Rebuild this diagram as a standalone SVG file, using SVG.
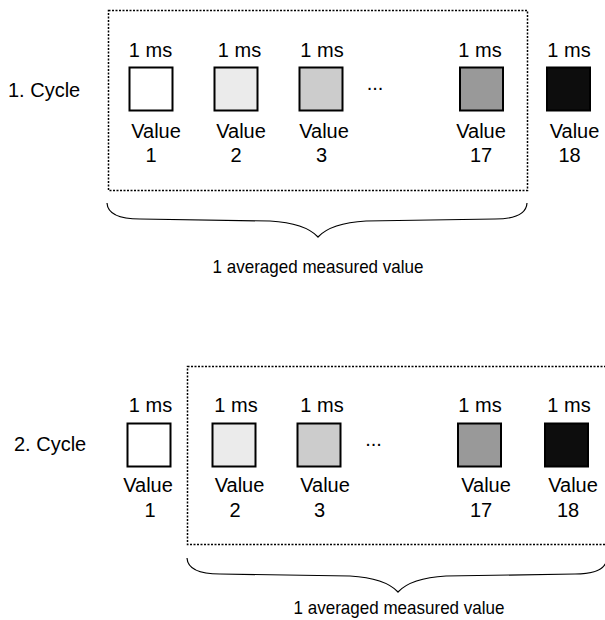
<svg xmlns="http://www.w3.org/2000/svg" width="605" height="620" viewBox="0 0 605 620">
  <style>
    text { font-family: "Liberation Sans", Arial, sans-serif; font-size: 20px; fill: #000; }
    .c { text-anchor: middle; }
    .box { stroke: #000; stroke-width: 2; }
    .frame { fill: none; stroke: #000; stroke-width: 1.5; stroke-dasharray: 2 1.5; }
    .brace { fill: none; stroke: #000; stroke-width: 1.2; }
  </style>
  <rect width="605" height="620" fill="#fff"/>

  <!-- Cycle 1 -->
  <g id="cycle1-label"><text x="8" y="97">1. Cycle</text></g>
  <g id="cycle1-frame"><rect class="frame" x="108.5" y="10.5" width="419" height="180"/></g>
  <g id="c1-v1">
    <text class="c" x="150.5" y="57">1 ms</text>
    <rect class="box" x="129.5" y="67.5" width="43" height="43" fill="#ffffff"/>
    <text class="c" x="156" y="138">Value</text>
    <text class="c" x="151" y="161.5">1</text>
  </g>
  <g id="c1-v2">
    <text class="c" x="239.5" y="57">1 ms</text>
    <rect class="box" x="214.5" y="67.5" width="43" height="43" fill="#ebebeb"/>
    <text class="c" x="241" y="138">Value</text>
    <text class="c" x="236" y="161.5">2</text>
  </g>
  <g id="c1-v3">
    <text class="c" x="322" y="57">1 ms</text>
    <rect class="box" x="299.5" y="67.5" width="43" height="43" fill="#cccccc"/>
    <text class="c" x="324" y="138">Value</text>
    <text class="c" x="321.5" y="161.5">3</text>
  </g>
  <g id="c1-dots"><text class="c" x="375" y="90">...</text></g>
  <g id="c1-v17">
    <text class="c" x="480" y="57">1 ms</text>
    <rect class="box" x="460" y="67.5" width="43" height="43" fill="#999999"/>
    <text class="c" x="481" y="138">Value</text>
    <text class="c" x="481" y="161.5">17</text>
  </g>
  <g id="c1-v18">
    <text class="c" x="569" y="57">1 ms</text>
    <rect class="box" x="547" y="67.5" width="43" height="43" fill="#0d0d0d"/>
    <text class="c" x="574.5" y="138">Value</text>
    <text class="c" x="569.5" y="161.5">18</text>
  </g>
  <g id="c1-result"><text class="c" x="318" y="273" textLength="211" lengthAdjust="spacingAndGlyphs" style="font-size:19px">1 averaged measured value</text></g>

  <!-- Cycle 2 -->
  <g id="cycle2-label"><text x="14" y="451">2. Cycle</text></g>
  <g id="cycle2-frame"><rect class="frame" x="187.5" y="366.5" width="419" height="178"/></g>
  <g id="c2-v1">
    <text class="c" x="150.5" y="412">1 ms</text>
    <rect class="box" x="127.5" y="423.5" width="43" height="43" fill="#ffffff"/>
    <text class="c" x="148" y="492">Value</text>
    <text class="c" x="150" y="517">1</text>
  </g>
  <g id="c2-v2">
    <text class="c" x="236" y="412">1 ms</text>
    <rect class="box" x="212.5" y="423.5" width="43" height="43" fill="#ebebeb"/>
    <text class="c" x="239.5" y="492">Value</text>
    <text class="c" x="235" y="517">2</text>
  </g>
  <g id="c2-v3">
    <text class="c" x="322" y="412">1 ms</text>
    <rect class="box" x="297.5" y="423.5" width="43" height="43" fill="#cccccc"/>
    <text class="c" x="325" y="492">Value</text>
    <text class="c" x="319.5" y="517">3</text>
  </g>
  <g id="c2-dots"><text class="c" x="373.5" y="446">...</text></g>
  <g id="c2-v17">
    <text class="c" x="480" y="412">1 ms</text>
    <rect class="box" x="458" y="423.5" width="43" height="43" fill="#999999"/>
    <text class="c" x="486" y="492">Value</text>
    <text class="c" x="481" y="517">17</text>
  </g>
  <g id="c2-v18">
    <text class="c" x="569" y="412">1 ms</text>
    <rect class="box" x="545" y="423.5" width="43" height="43" fill="#0d0d0d"/>
    <text class="c" x="573" y="492">Value</text>
    <text class="c" x="568" y="517">18</text>
  </g>
  <g id="c2-result"><text class="c" x="399" y="614" textLength="211" lengthAdjust="spacingAndGlyphs" style="font-size:19px">1 averaged measured value</text></g>

  <!-- Connectors (braces) -->
  <g id="connectors">
    <path class="brace" d="M107,203 Q108,219 140,219 L270,221 Q305,223 318,237 Q331,223 366,221 L495,219 Q526,219 527,203"/>
    <path class="brace" d="M187,558 Q188,574 220,574 L350,576 Q385,578 398,592 Q411,578 446,576 L575,574 Q606,574 607,558"/>
  </g>
</svg>
